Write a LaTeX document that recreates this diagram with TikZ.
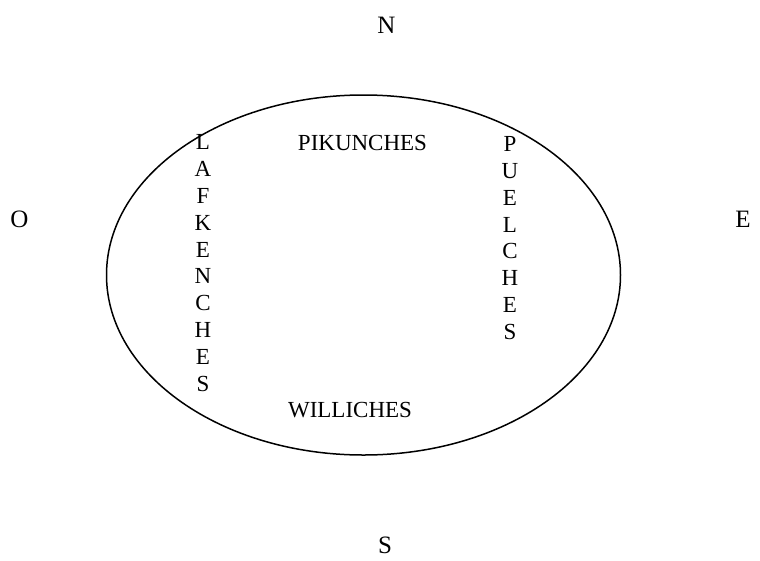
\documentclass[tikz,border=0pt]{standalone}
\usepackage{fontspec}
\setmainfont{Liberation Serif}
\usetikzlibrary{positioning}
\tikzset{
  tribe/.style={font=\fontsize{23}{26.8}\selectfont,inner sep=0pt,align=center},
  cardinal/.style={font=\fontsize{25}{28}\selectfont,inner sep=0pt}
}
\begin{document}
\begin{tikzpicture}[x=1pt,y=-1pt]
\useasboundingbox (0,0) rectangle (760,560);
% territory
\draw[line width=1.5pt] (363.5,275) ellipse [x radius=257,y radius=180];
% tribes
\node[tribe] (pikunches) at (362.5,143) {PIKUNCHES};
\node[tribe] (williches) at (350,410.5) {WILLICHES};
\node[tribe] (lafkenches) at (203,263) {L\\A\\F\\K\\E\\N\\C\\H\\E\\S};
\node[tribe] (puelches) at (510,238) {P\\U\\E\\L\\C\\H\\E\\S};
% compass points
\node[cardinal] (n) at (386.5,25) {N};
\node[cardinal] (s) at (385,545) {S};
\node[cardinal] (o) at (19.5,219) {O};
\node[cardinal] (e) at (743,219) {E};
\end{tikzpicture}
\end{document}
